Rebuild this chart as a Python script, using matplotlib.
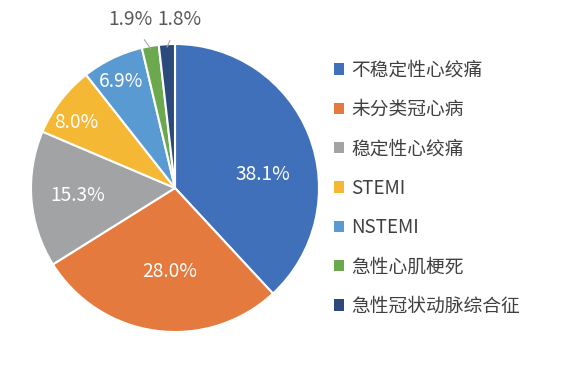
import numpy as np
import matplotlib.pyplot as plt
from matplotlib.patches import Patch

plt.rcParams['font.family'] = ['Noto Sans CJK SC', 'DejaVu Sans']

# 数据
categories = ['不稳定性心绞痛', '未分类冠心病', '稳定性心绞痛', 'STEMI',
              'NSTEMI', '急性心肌梗死', '急性冠状动脉综合征']
shares = [38.1, 28.0, 15.3, 8.0, 6.9, 1.9, 1.8]
colors = ['#4070BA', '#E57A3F', '#A2A3A5', '#F4B834', '#5A9AD2', '#6CA84E', '#2B4A7B']

# 标签半径 (内部) / None 表示外部带引线
label_r = [0.62, 0.58, 0.68, 0.82, 0.83, None, None]
label_shift = [-13, 4, 0, 4, 1, 0, 0]  # 角度微调（度）
outside_pos = {5: (-0.31, 1.17), 6: (0.03, 1.17)}

fig = plt.figure(figsize=(5.69, 3.68), dpi=100)
ax = fig.add_axes([31 / 569, 36 / 368, 288 / 569, 288 / 368])

wedges, _ = ax.pie(shares, colors=colors, startangle=90, counterclock=False,
                   radius=1.0, wedgeprops=dict(edgecolor='white', linewidth=1.5))
ax.set_xlim(-1, 1)
ax.set_ylim(-1, 1)
ax.set_aspect('auto')

for i, w in enumerate(wedges):
    mid = np.deg2rad((w.theta1 + w.theta2) / 2 + label_shift[i])
    txt = f'{shares[i]:.1f}%'
    if label_r[i] is not None:
        r = label_r[i]
        ax.text(r * np.cos(mid), r * np.sin(mid), txt, ha='center', va='center',
                fontsize=13.8, color='white')
    else:
        tx, ty = outside_pos[i]
        ex, ey = 0.98 * np.cos(mid), 0.98 * np.sin(mid)
        ax.annotate(txt, xy=(ex, ey), xytext=(tx, ty), ha='center', va='center',
                    fontsize=13.8, color='#595959', annotation_clip=False,
                    arrowprops=dict(arrowstyle='-', color='#A6A6A6', lw=0.8,
                                    shrinkA=6, shrinkB=0))

handles = [Patch(facecolor=c, edgecolor='none') for c in colors]
fig.legend(handles, categories, loc='upper left', bbox_to_anchor=(326 / 569, 1 - 52 / 368),
           frameon=False, fontsize=13.5, labelcolor='#404040',
           handlelength=0.55, handleheight=0.55, handletextpad=0.4, labelspacing=0.98,
           borderaxespad=0)

fig.savefig('out.png', dpi=100)
